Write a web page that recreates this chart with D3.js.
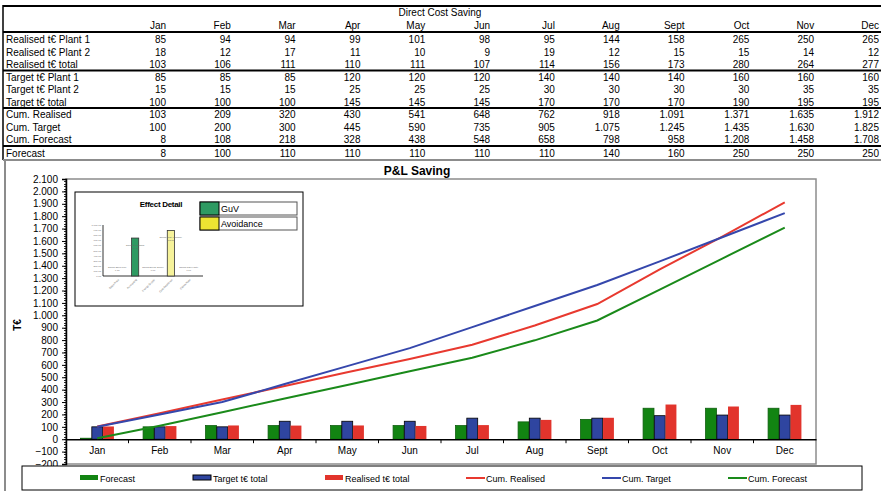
<!DOCTYPE html>
<html>
<head>
<meta charset="utf-8">
<script src="https://cdn.jsdelivr.net/npm/d3@7"></script>
<style>
  html, body { margin: 0; padding: 0; background: #fff; }
  svg { display: block; font-family: "Liberation Sans", Arial, sans-serif; }
</style>
</head>
<body>
<svg id="chart" width="881" height="491"></svg>
<script>
// ---- data ----
const months = ["Jan", "Feb", "Mar", "Apr", "May", "Jun", "Jul", "Aug", "Sept", "Oct", "Nov", "Dec"];
const realisedPlant1 = [85, 94, 94, 99, 101, 98, 95, 144, 158, 265, 250, 265];
const realisedPlant2 = [18, 12, 17, 11, 10, 9, 19, 12, 15, 15, 14, 12];
const realisedTotal = [103, 106, 111, 110, 111, 107, 114, 156, 173, 280, 264, 277];
const targetPlant1 = [85, 85, 85, 120, 120, 120, 140, 140, 140, 160, 160, 160];
const targetPlant2 = [15, 15, 15, 25, 25, 25, 30, 30, 30, 30, 35, 35];
const targetTotal = [100, 100, 100, 145, 145, 145, 170, 170, 170, 190, 195, 195];
const cumRealised = [103, 209, 320, 430, 541, 648, 762, 918, 1091, 1371, 1635, 1912];
const cumTarget = [100, 200, 300, 445, 590, 735, 905, 1075, 1245, 1435, 1630, 1825];
const cumForecast = [8, 108, 218, 328, 438, 548, 658, 798, 958, 1208, 1458, 1708];
const forecast = [8, 100, 110, 110, 110, 110, 110, 140, 160, 250, 250, 250];
const yTicks = d3.range(-200, 2101, 100);

// small "Effect Detail" panel
const effectCategories = ["Sales Price", "Purchasing", "Energy Supply", "Cost Avoidance", "Capex Rate"];
const effectValues = [0, 744, 0, 893, 0];
const effectTypes = ["GuV", "GuV", "GuV", "Avoidance", "GuV"];
const effectTicks = d3.range(0, 1001, 100);

// ---- styling ----
const C = {
  green: "#128412", blue: "#2f45a0", red: "#e2342c",
  lineRed: "#e8392f", lineBlue: "#3547ac", lineGreen: "#1a8a1a",
  guv: "#2e9a62", avoid: "#ece432", grid: "#8c8c8c"
};
const loc = d3.formatLocale({ decimal: ",", thousands: ".", grouping: [3], currency: ["", "€"] });
const fmt = loc.format(",d");

const svg = d3.select("#chart");
const W = 881;

// ---- table ----
const table = svg.append("g").attr("font-size", 10).attr("fill", "#000");
table.append("text").attr("x", 440).attr("y", 16).attr("text-anchor", "middle").text("Direct Cost Saving");

const colX = d3.scalePoint().domain(months).range([166, 879]);
table.selectAll(".hdr").data(months).join("text")
  .attr("x", d => colX(d)).attr("y", 29).attr("text-anchor", "end").text(d => d);

const rows = [
  { label: "Realised t€ Plant 1", values: realisedPlant1, y: 39 },
  { label: "Realised t€ Plant 2", values: realisedPlant2, y: 52 },
  { label: "Realised t€ total", values: realisedTotal, y: 64 },
  { label: "Target t€ Plant 1", values: targetPlant1, y: 77 },
  { label: "Target t€ Plant 2", values: targetPlant2, y: 89 },
  { label: "Target t€ total", values: targetTotal, y: 102 },
  { label: "Cum. Realised", values: cumRealised, y: 114 },
  { label: "Cum. Target", values: cumTarget, y: 127 },
  { label: "Cum. Forecast", values: cumForecast, y: 139 },
  { label: "Forecast", values: forecast, y: 153 }
];
rows.forEach(r => {
  const g = table.append("g");
  g.append("text").attr("x", 6).attr("y", r.y + 3.5).text(r.label);
  g.selectAll("text.v").data(r.values).join("text").attr("class", "v")
    .attr("x", (d, i) => colX(months[i])).attr("y", r.y + 3.5)
    .attr("text-anchor", "end").text(d => fmt(d));
});

// rules of the table
[6, 32, 70.5, 108, 146].forEach(y => {
  svg.append("line").attr("x1", 3).attr("x2", W).attr("y1", y).attr("y2", y)
    .attr("stroke", "#000").attr("stroke-width", 2);
});
svg.append("line").attr("x1", 3).attr("x2", 3).attr("y1", 5).attr("y2", 160)
  .attr("stroke", "#000").attr("stroke-width", 1.5);
svg.append("line").attr("x1", 3).attr("x2", W).attr("y1", 160).attr("y2", 160)
  .attr("stroke", C.grid).attr("stroke-width", 2);
svg.append("line").attr("x1", 5).attr("x2", 5).attr("y1", 160).attr("y2", 491)
  .attr("stroke", C.grid).attr("stroke-width", 2);

// ---- main chart ----
const plot = { left: 66, right: 816, top: 179, bottom: 464 };
const x = d3.scaleBand().domain(months).range([plot.left, plot.right]).padding(0);
const y = d3.scaleLinear().domain([-200, 2100]).range([plot.bottom, plot.top]);
const barSeries = [
  { name: "Forecast", values: forecast, fill: C.green, stroke: "#0d5e0d" },
  { name: "Target t€ total", values: targetTotal, fill: C.blue, stroke: "#000" },
  { name: "Realised t€ total", values: realisedTotal, fill: C.red, stroke: "none" }
];
const inner = d3.scaleBand().domain(barSeries.map(s => s.name)).range([-17, 17]).padding(0.03);

svg.append("text").attr("x", 417).attr("y", 175).attr("text-anchor", "middle")
  .attr("font-size", 12).attr("font-weight", "bold").text("P&L Saving");

// plot frame
svg.append("rect").attr("x", plot.left).attr("y", plot.top)
  .attr("width", plot.right - plot.left).attr("height", plot.bottom - plot.top)
  .attr("fill", "none").attr("stroke", C.grid).attr("stroke-width", 1.5);

// y axis
const yAxis = svg.append("g").attr("transform", `translate(${plot.left},0)`)
  .call(d3.axisLeft(y).tickValues(yTicks).tickSize(4).tickFormat(d => fmt(d)));
yAxis.select(".domain").attr("stroke", "#000").attr("stroke-width", 1.5);
yAxis.selectAll("text").attr("font-size", 10).attr("font-family", "Liberation Sans, Arial").attr("fill", "#000").attr("dx", -1);
// minor ticks
svg.append("g").selectAll("line").data(d3.range(-200, 2101, 20)).join("line")
  .attr("x1", plot.left - 2).attr("x2", plot.left + 1)
  .attr("y1", d => Math.round(y(d)) + 0.5).attr("y2", d => Math.round(y(d)) + 0.5)
  .attr("stroke", "#000").attr("stroke-width", 0.8);

svg.append("text").attr("transform", "translate(21,325) rotate(-90)")
  .attr("text-anchor", "middle").attr("font-size", 10).attr("font-weight", "bold").text("T€");

// bars
barSeries.forEach(s => {
  svg.append("g").selectAll("rect").data(s.values).join("rect")
    .attr("x", (d, i) => x(months[i]) + x.bandwidth() / 2 + inner(s.name))
    .attr("width", inner.bandwidth())
    .attr("y", d => y(Math.max(0, d)))
    .attr("height", d => Math.abs(y(d) - y(0)))
    .attr("fill", s.fill)
    .attr("stroke", s.stroke).attr("stroke-width", 0.8);
});

// x axis at zero
const xAxis = svg.append("g").attr("transform", `translate(0,${y(0)})`)
  .call(d3.axisBottom(x).tickSize(0).tickPadding(8));
xAxis.select(".domain").attr("stroke", "#000").attr("stroke-width", 1.5);
xAxis.selectAll("text").attr("font-size", 10).attr("font-family", "Liberation Sans, Arial").attr("fill", "#000");
svg.append("g").selectAll("line").data(months.slice(1)).join("line")
  .attr("x1", d => x(d)).attr("x2", d => x(d))
  .attr("y1", y(0)).attr("y2", y(0) + 4).attr("stroke", "#000");

// cumulative lines
const lineSeries = [
  { name: "Cum. Realised", values: cumRealised, color: C.lineRed },
  { name: "Cum. Target", values: cumTarget, color: C.lineBlue },
  { name: "Cum. Forecast", values: cumForecast, color: C.lineGreen }
];
const line = d3.line().x((d, i) => x(months[i]) + x.bandwidth() / 2).y(d => y(d));
lineSeries.forEach(s => {
  svg.append("path").datum(s.values).attr("d", line)
    .attr("fill", "none").attr("stroke", s.color).attr("stroke-width", 2);
});

// ---- Effect Detail panel ----
const inset = svg.append("g");
inset.append("rect").attr("x", 75).attr("y", 192).attr("width", 228).attr("height", 114)
  .attr("fill", "#fff").attr("stroke", "#000").attr("stroke-width", 1);
inset.append("text").attr("x", 161).attr("y", 207).attr("text-anchor", "middle")
  .attr("font-size", 8).attr("font-weight", "bold").attr("letter-spacing", -0.3).text("Effect Detail");

const ex = d3.scaleBand().domain(effectCategories).range([103, 203]).padding(0.6);
const ey = d3.scaleLinear().domain([0, 1000]).range([276, 225]);
inset.append("line").attr("x1", 103).attr("x2", 103).attr("y1", 225).attr("y2", 276).attr("stroke", "#000").attr("stroke-width", 0.8);
inset.append("line").attr("x1", 103).attr("x2", 203).attr("y1", 276).attr("y2", 276).attr("stroke", "#000").attr("stroke-width", 0.8);
inset.selectAll(".et").data(effectTicks).join("text").attr("class", "et")
  .attr("x", 101).attr("y", d => ey(d) + 1).attr("text-anchor", "end")
  .attr("font-size", 2.4).attr("fill", "#666").text(d => fmt(d) + " T€");
inset.selectAll(".ebar").data(effectValues).join("rect").attr("class", "ebar")
  .attr("x", (d, i) => ex(effectCategories[i]))
  .attr("width", ex.bandwidth())
  .attr("y", d => ey(d)).attr("height", d => ey(0) - ey(d))
  .attr("fill", (d, i) => effectTypes[i] === "GuV" ? C.guv : "#f6f29a")
  .attr("stroke", "#333").attr("stroke-width", 0.8)
  .attr("display", d => d > 0 ? null : "none");
inset.selectAll(".elbl").data(effectValues).join("text").attr("class", "elbl")
  .attr("x", (d, i) => ex(effectCategories[i]) + ex.bandwidth() / 2)
  .attr("y", d => d > 0 ? ey(d) + 8 : ey(0) - 8)
  .attr("text-anchor", "middle").attr("font-size", 2.2).attr("fill", "#666")
  .each(function (d, i) {
    const t = d3.select(this);
    t.append("tspan").attr("x", t.attr("x")).text("Saving " + effectCategories[i]);
    t.append("tspan").attr("x", t.attr("x")).attr("dy", 3).text(fmt(d) + " T€");
  });
inset.selectAll(".ecat").data(effectCategories).join("text").attr("class", "ecat")
  .attr("transform", d => `translate(${ex(d) + ex.bandwidth() / 2 + 2},280) rotate(-45)`)
  .attr("text-anchor", "end").attr("font-size", 2.6).attr("fill", "#666").text(d => d);

// panel legend
[{ label: "GuV", color: C.guv, y: 202 }, { label: "Avoidance", color: C.avoid, y: 217 }].forEach(e => {
  inset.append("rect").attr("x", 200).attr("y", e.y).attr("width", 97).attr("height", 13)
    .attr("fill", "#fff").attr("stroke", "#555").attr("stroke-width", 1);
  inset.append("rect").attr("x", 200).attr("y", e.y).attr("width", 19).attr("height", 13)
    .attr("fill", e.color).attr("stroke", "#000").attr("stroke-width", 1);
  inset.append("text").attr("x", 221).attr("y", e.y + 10).attr("font-size", 9).text(e.label);
});

// ---- legend ----
const legend = svg.append("g");
legend.append("rect").attr("x", 22).attr("y", 466).attr("width", 840).attr("height", 24)
  .attr("fill", "#fff").attr("stroke", "#000").attr("stroke-width", 1);
const legendItems = [
  { name: "Forecast", kind: "bar", color: C.green, stroke: "none", x: 80 },
  { name: "Target t€ total", kind: "bar", color: C.blue, stroke: "#000", x: 193 },
  { name: "Realised t€ total", kind: "bar", color: C.red, stroke: "none", x: 325 },
  { name: "Cum. Realised", kind: "line", color: C.lineRed, x: 466 },
  { name: "Cum. Target", kind: "line", color: C.lineBlue, x: 602 },
  { name: "Cum. Forecast", kind: "line", color: C.lineGreen, x: 728 }
];
legendItems.forEach(it => {
  if (it.kind === "bar") {
    legend.append("rect").attr("x", it.x).attr("y", 475).attr("width", 18).attr("height", 5)
      .attr("fill", it.color).attr("stroke", it.stroke).attr("stroke-width", 1);
  } else {
    legend.append("line").attr("x1", it.x).attr("x2", it.x + 19).attr("y1", 478).attr("y2", 478)
      .attr("stroke", it.color).attr("stroke-width", 2);
  }
  legend.append("text").attr("x", it.x + 20).attr("y", 481.5).attr("font-size", 9).text(it.name);
});
</script>
</body>
</html>
